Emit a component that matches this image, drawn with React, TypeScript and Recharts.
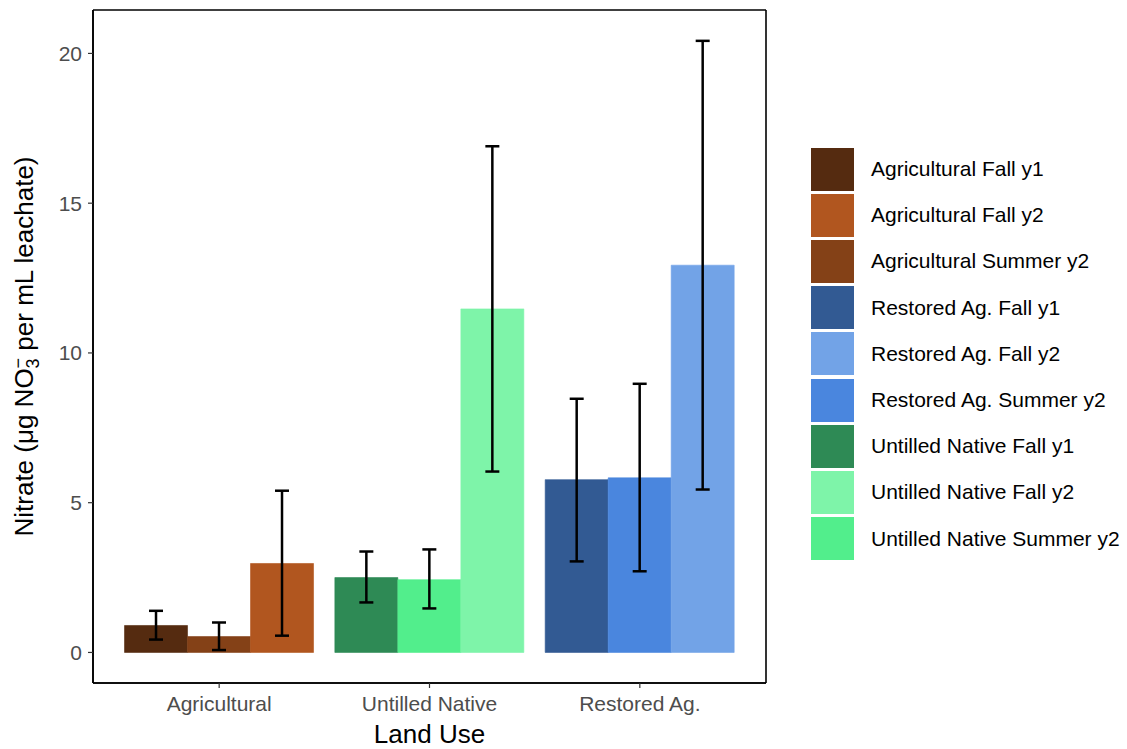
import React from 'react';
import { ComposedChart, Bar, XAxis, YAxis, ErrorBar, Cell, Label, CartesianGrid } from 'recharts';

// Land-use categories on the x axis
const landUses = ['Agricultural', 'Untilled Native', 'Restored Ag.'];

// Mean nitrate per sampling period, one value per land use
const fallY1 = [0.9, 2.5, 5.77];
const summerY2 = [0.53, 2.43, 5.83];
const fallY2 = [2.97, 11.47, 12.93];

// Error bar limits (lower, upper) per sampling period
const fallY1Low = [0.43, 1.67, 3.04];
const fallY1High = [1.39, 3.37, 8.47];
const summerY2Low = [0.08, 1.47, 2.71];
const summerY2High = [1.0, 3.44, 8.97];
const fallY2Low = [0.56, 6.04, 5.44];
const fallY2High = [5.4, 16.9, 20.42];

// Fill colours per land use and period
const fallY1Colors = ['#552B10', '#2E8A55', '#325A93'];
const summerY2Colors = ['#844117', '#52EE8C', '#4A86DE'];
const fallY2Colors = ['#B1561F', '#7EF4A9', '#72A3E7'];

const yTicks = [0, 5, 10, 15, 20];

const legendLabels = [
  'Agricultural Fall y1',
  'Agricultural Fall y2',
  'Agricultural Summer y2',
  'Restored Ag. Fall y1',
  'Restored Ag. Fall y2',
  'Restored Ag. Summer y2',
  'Untilled Native Fall y1',
  'Untilled Native Fall y2',
  'Untilled Native Summer y2',
];
const legendColors = [
  '#552B10', '#B1561F', '#844117',
  '#325A93', '#72A3E7', '#4A86DE',
  '#2E8A55', '#7EF4A9', '#52EE8C',
];

const data = landUses.map((name, i) => ({
  name,
  fallY1: fallY1[i],
  summerY2: summerY2[i],
  fallY2: fallY2[i],
  fallY1Err: [fallY1[i] - fallY1Low[i], fallY1High[i] - fallY1[i]],
  summerY2Err: [summerY2[i] - summerY2Low[i], summerY2High[i] - summerY2[i]],
  fallY2Err: [fallY2[i] - fallY2Low[i], fallY2High[i] - fallY2[i]],
}));

const FONT = '"Liberation Sans", Arial, Helvetica, sans-serif';

const YTitle = (props: any) => {
  const vb = props.viewBox || { x: 0, y: 0, width: 0, height: 0 };
  const cx = vb.x + 24;
  const cy = vb.y + vb.height / 2;
  return (
    <text
      x={cx}
      y={cy + 9}
      transform={`rotate(-90 ${cx} ${cy})`}
      textAnchor="middle"
      fontSize={26}
      fill="#000"
      fontFamily={FONT}
    >
      <tspan>Nitrate (μg NO</tspan>
      <tspan fontSize={18} dy={6}>3</tspan>
      <tspan fontSize={18} dx={-10} dy={-15}>−</tspan>
      <tspan dy={9}> per mL leachate)</tspan>
    </text>
  );
};

const LegendBox = () => (
  <div style={{ position: 'absolute', left: 811, top: 146, fontFamily: FONT }}>
    {legendLabels.map((label, i) => (
      <div key={label} style={{ display: 'flex', alignItems: 'center', height: 46.2 }}>
        <div style={{ width: 43, height: 43, background: legendColors[i] }} />
        <span style={{ marginLeft: 17, fontSize: 21, color: '#000', whiteSpace: 'nowrap' }}>{label}</span>
      </div>
    ))}
  </div>
);

// Panel frame: lines on the four edges of the plotting area
const frameRows = (p: any) => [p.offset.top, p.offset.top + p.offset.height];
const frameCols = (p: any) => [p.offset.left, p.offset.left + p.offset.width];

export default function App() {
  return (
    <div style={{ position: 'absolute', left: 0, top: 0, width: 1127, height: 749, background: '#fff', fontFamily: FONT }}>
      <ComposedChart
        width={1127}
        height={749}
        data={data}
        margin={{ top: 10, right: 361, bottom: 0, left: 0 }}
        barCategoryGap="5%"
        barGap={0}
      >
        <CartesianGrid
          stroke="#000"
          strokeWidth={1.6}
          horizontalCoordinatesGenerator={frameRows}
          verticalCoordinatesGenerator={frameCols}
        />
        <XAxis
          dataKey="name"
          height={66}
          interval={0}
          padding={{ left: 21, right: 21 }}
          axisLine={{ stroke: '#000', strokeWidth: 1.6 }}
          tickLine={{ stroke: '#333', strokeWidth: 1.2 }}
          tickSize={5}
          tickMargin={8}
          tick={{ fill: '#4D4D4D', fontSize: 21, fontFamily: FONT }}
        >
          <Label value="Land Use" position="insideBottom" offset={6} fill="#000" fontSize={26} fontFamily={FONT} />
        </XAxis>
        <YAxis
          width={93}
          type="number"
          domain={[-1.02, 21.45]}
          ticks={yTicks}
          interval={0}
          allowDataOverflow
          axisLine={{ stroke: '#000', strokeWidth: 1.6 }}
          tickLine={{ stroke: '#333', strokeWidth: 1.2 }}
          tickSize={5}
          tickMargin={6}
          tick={{ fill: '#4D4D4D', fontSize: 21, fontFamily: FONT }}
        >
          <Label content={<YTitle />} />
        </YAxis>
        <Bar dataKey="fallY1" isAnimationActive={false}>
          {data.map((d, i) => (
            <Cell key={d.name} fill={fallY1Colors[i]} stroke={fallY1Colors[i]} strokeWidth={0.6} />
          ))}
          <ErrorBar dataKey="fallY1Err" width={7} strokeWidth={2.5} stroke="#000" direction="y" />
        </Bar>
        <Bar dataKey="summerY2" isAnimationActive={false}>
          {data.map((d, i) => (
            <Cell key={d.name} fill={summerY2Colors[i]} stroke={summerY2Colors[i]} strokeWidth={0.6} />
          ))}
          <ErrorBar dataKey="summerY2Err" width={7} strokeWidth={2.5} stroke="#000" direction="y" />
        </Bar>
        <Bar dataKey="fallY2" isAnimationActive={false}>
          {data.map((d, i) => (
            <Cell key={d.name} fill={fallY2Colors[i]} stroke={fallY2Colors[i]} strokeWidth={0.6} />
          ))}
          <ErrorBar dataKey="fallY2Err" width={7} strokeWidth={2.5} stroke="#000" direction="y" />
        </Bar>
      </ComposedChart>
      <LegendBox />
    </div>
  );
}
